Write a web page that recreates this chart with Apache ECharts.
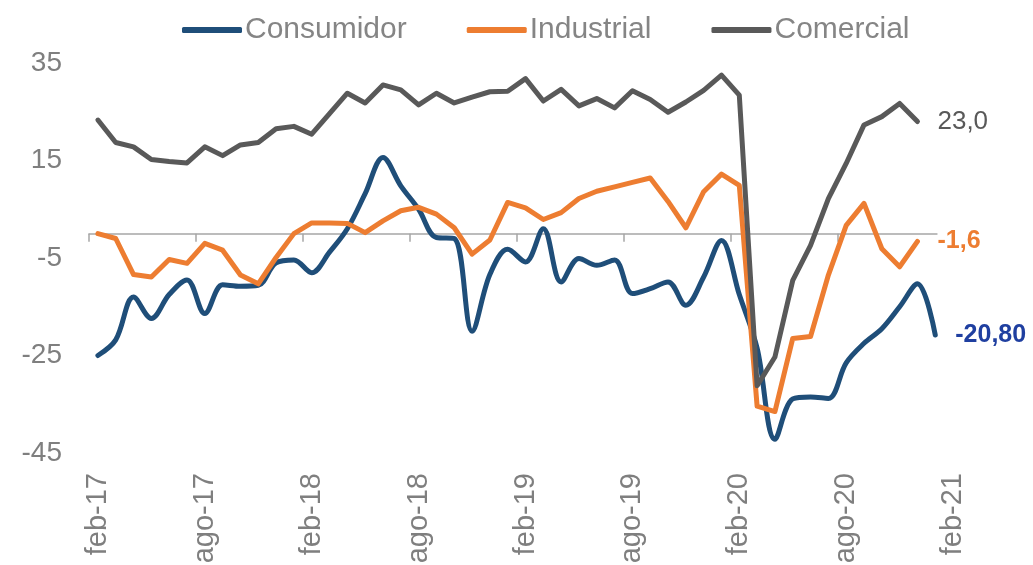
<!DOCTYPE html>
<html>
<head>
<meta charset="utf-8">
<title>Confianza</title>
<script src="https://cdn.jsdelivr.net/npm/echarts@6/dist/echarts.min.js"></script>
<style>
  html, body { margin: 0; padding: 0; background: #fff; }
  #chart { width: 1033px; height: 565px; }
</style>
</head>
<body>
<div id="chart"></div>
<script>
// meses feb-17 .. feb-21 (la última categoría queda vacía, solo lleva la etiqueta)
const months = [
  'feb-17','mar-17','abr-17','may-17','jun-17','jul-17','ago-17','sep-17','oct-17','nov-17','dic-17','ene-18',
  'feb-18','mar-18','abr-18','may-18','jun-18','jul-18','ago-18','sep-18','oct-18','nov-18','dic-18','ene-19',
  'feb-19','mar-19','abr-19','may-19','jun-19','jul-19','ago-19','sep-19','oct-19','nov-19','dic-19','ene-20',
  'feb-20','mar-20','abr-20','may-20','jun-20','jul-20','ago-20','sep-20','oct-20','nov-20','dic-20','ene-21',
  'feb-21'
];

const consumidor = [
  -25.0, -21.8, -13.0, -17.4, -12.5, -9.5, -16.4, -10.5, -10.8, -10.6, -6.0, -5.4,
  -8.0, -3.8, 1.0, 8.2, 15.6, 9.8, 5.0, -0.8, -1.0, -20.0, -8.4, -3.2,
  -5.8, 1.0, -9.9, -5.1, -6.5, -5.4, -12.3, -11.3, -9.9, -14.7, -8.9, -1.4,
  -12.5, -23.5, -42.2, -33.9, -33.5, -33.8, -26.5, -22.5, -19.5, -15.0, -10.3, -20.8
];

const industrial = [
  0.0, -1.0, -8.4, -8.9, -5.3, -6.1, -2.0, -3.4, -8.5, -10.3, -4.9, 0.0,
  2.2, 2.2, 2.1, 0.2, 2.6, 4.7, 5.4, 4.0, 1.2, -4.2, -1.3, 6.4,
  5.3, 2.9, 4.3, 7.2, 8.7, 9.6, 10.5, 11.4, 6.6, 1.2, 8.6, 12.2,
  9.9, -35.4, -36.5, -21.5, -21.1, -8.5, 1.7, 6.2, -3.1, -6.8, -1.6
];

const comercial = [
  23.3, 18.7, 17.8, 15.2, 14.8, 14.5, 17.8, 16.0, 18.2, 18.7, 21.5, 22.0,
  20.4, 24.6, 28.8, 26.8, 30.5, 29.5, 26.4, 28.8, 26.8, 28.0, 29.1, 29.2,
  31.8, 27.2, 29.6, 26.2, 27.7, 25.8, 29.3, 27.5, 24.9, 27.0, 29.4, 32.5,
  28.4, -31.2, -25.3, -9.6, -2.4, 7.2, 14.4, 22.3, 24.0, 26.7, 23.0
];

const yTicks = [-45, -25, -5, 15, 35];

const FONT = "'Liberation Sans', Arial, sans-serif";
const GREY_TEXT = '#7f7f7f';

const fmt = (v, dec) => v.toFixed(dec).replace('.', ',');

const chart = echarts.init(document.getElementById('chart'));

chart.setOption({
  animation: false,
  textStyle: { fontFamily: FONT },
  legend: {
    left: 177,
    top: 10,
    icon: 'roundRect',
    itemWidth: 60,
    itemHeight: 6,
    itemGap: 60,
    textStyle: { fontSize: 30, color: '#858585', fontFamily: FONT, padding: [0, 0, 0, -2] },
    data: ['Consumidor', 'Industrial', 'Comercial']
  },
  grid: {
    left: 89,
    top: 63,
    right: 71,
    bottom: 112,
    containLabel: false,
    outerBoundsMode: 'none'
  },
  xAxis: [
    {
      type: 'category',
      data: months,
      boundaryGap: true,
      position: 'bottom',
      axisLine: { show: false, onZero: false },
      axisTick: { show: false },
      splitLine: { show: false },
      axisLabel: {
        interval: 5,
        rotate: 90,
        margin: 20,
        fontSize: 29,
        color: GREY_TEXT,
        fontFamily: FONT
      }
    },
    {
      type: 'category',
      data: months,
      boundaryGap: true,
      position: 'bottom',
      axisLine: { show: true, onZero: true, lineStyle: { color: '#a6a6a6', width: 1.5 } },
      axisTick: { show: true, interval: 5, length: 8, lineStyle: { color: '#a6a6a6', width: 1.5 } },
      axisLabel: { show: false },
      splitLine: { show: false }
    }
  ],
  yAxis: {
    type: 'value',
    min: yTicks[0],
    max: yTicks[yTicks.length - 1],
    interval: 20,
    axisLine: { show: false },
    axisTick: { show: false },
    splitLine: { show: false },
    axisLabel: {
      margin: 27,
      fontSize: 28,
      color: GREY_TEXT,
      fontFamily: FONT
    }
  },
  series: [
    {
      name: 'Consumidor',
      type: 'line',
      data: consumidor,
      xAxisIndex: 0,
      smooth: 0.35,
      symbol: 'none',
      color: '#1F4E79',
      lineStyle: { width: 5, color: '#1F4E79', cap: 'round', join: 'round' },
      endLabel: {
        show: true,
        distance: 20,
        formatter: p => fmt(p.value, 2),
        color: '#1F3FA0',
        fontSize: 25,
        fontWeight: 'bold',
        fontFamily: FONT
      },
      z: 3
    },
    {
      name: 'Industrial',
      type: 'line',
      data: industrial,
      xAxisIndex: 0,
      symbol: 'none',
      color: '#ED7D31',
      lineStyle: { width: 5, color: '#ED7D31', cap: 'round', join: 'round' },
      endLabel: {
        show: true,
        distance: 20,
        formatter: p => fmt(p.value, 1),
        color: '#ED7D31',
        fontSize: 25,
        fontWeight: 'bold',
        fontFamily: FONT,
        backgroundColor: '#fff'
      },
      z: 4
    },
    {
      name: 'Comercial',
      type: 'line',
      data: comercial,
      xAxisIndex: 0,
      symbol: 'none',
      color: '#595959',
      lineStyle: { width: 5, color: '#595959', cap: 'round', join: 'round' },
      endLabel: {
        show: true,
        distance: 20,
        formatter: p => fmt(p.value, 1),
        color: '#595959',
        fontSize: 26,
        fontFamily: FONT
      },
      z: 5
    }
  ]
});
</script>
</body>
</html>
